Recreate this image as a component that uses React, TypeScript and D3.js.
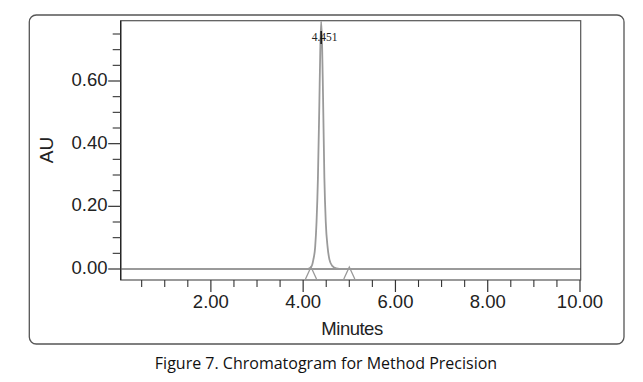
import React from "react";
import * as d3 from "d3";

const traceTime = [0.05, 4.1, 4.18, 4.22, 4.26, 4.29, 4.32, 4.35, 4.37, 4.39, 4.41, 4.43, 4.46, 4.49, 4.53, 4.57, 4.63, 4.72, 4.85, 10.0];
const traceAU = [0.0, 0.0, 0.008, 0.029, 0.07, 0.15, 0.29, 0.52, 0.69, 0.79, 0.72, 0.56, 0.29, 0.15, 0.07, 0.03, 0.01, 0.002, 0.0, 0.0];
const xMajorTicks = [2, 4, 6, 8, 10];
const xMinorTicks = [0.5, 1, 1.5, 2.5, 3, 3.5, 4.5, 5, 5.5, 6.5, 7, 7.5, 8.5, 9, 9.5];
const yMajorTicks = [0, 0.2, 0.4, 0.6];
const yMinorTicks = [0.05, 0.1, 0.15, 0.25, 0.3, 0.35, 0.45, 0.5, 0.55, 0.65, 0.7, 0.75];
const peakMarkers = [4.17, 5.0];
const peakLabel = "4.451";
const peakApex = 4.39;
const xTitle = "Minutes";
const yTitle = "AU";
const caption = "Figure 7. Chromatogram for Method Precision";

const W = 643, H = 382;
const L = 120.7, R = 580.7, T = 20.7, B = 280;

export default function App() {
  const x = d3.scaleLinear().domain([0.05, 10]).range([L + 0.2, 580]);
  const y = d3.scaleLinear().domain([0, 0.6]).range([269, 81]);
  const pts: [number, number][] = traceTime.map((t, i) => [t, traceAU[i]]);
  const line = d3.line<[number, number]>().x(d => x(d[0])).y(d => y(d[1])).curve(d3.curveMonotoneX);
  const font = "'Liberation Sans', Arial, sans-serif";
  return (
    <svg width={W} height={H} style={{ position: "absolute", left: 0, top: 0, background: "#fff" }}>
      <rect x={29.3} y={15} width={624 - 29.3} height={344 - 15} rx={7} fill="#fff" stroke="#555" strokeWidth={1.3} />
      <defs>
        <clipPath id="pc"><rect x={L} y={T} width={R - L} height={B - T} /></clipPath>
      </defs>
      <rect x={L} y={T} width={R - L} height={B - T} fill="none" stroke="#555" strokeWidth={1.2} />
      <line x1={L} x2={R} y1={y(0)} y2={y(0)} stroke="#333" strokeWidth={1.1} />
      <g clipPath="url(#pc)">
        <path d={line(pts) || ""} fill="none" stroke="#9a9a9a" strokeWidth={1.8} />
      </g>
      {peakMarkers.map((t, i) => (
        <path key={i} d={`M${x(t) - 5.5},${B - 1} L${x(t)},${y(0) - 2} L${x(t) + 5.5},${B - 1}`} fill="none" stroke="#999" strokeWidth={1.3} />
      ))}
      <text x={x(peakApex) - 9.5} y={38} dominantBaseline="middle" fontFamily="'Liberation Serif', 'Times New Roman', serif" fontSize={11.5} fill="#222">{peakLabel}</text>
      <line x1={x(peakApex)} x2={x(peakApex)} y1={31} y2={44} stroke="#111" strokeWidth={1.5} />
      <line x1={L} x2={L} y1={T} y2={B} stroke="#222" strokeWidth={1.3} />
      {xMajorTicks.map(t => (
        <g key={t}>
          <line x1={x(t)} x2={x(t)} y1={B} y2={B + 12} stroke="#333" strokeWidth={1.2} />
          <text x={x(t)} y={303} textAnchor="middle" dominantBaseline="middle" fontFamily={font} fontSize={18.5} fill="#222">{t.toFixed(2)}</text>
        </g>
      ))}
      {xMinorTicks.map(t => (
        <line key={t} x1={x(t)} x2={x(t)} y1={B} y2={B + 7} stroke="#333" strokeWidth={1.1} />
      ))}
      {yMajorTicks.map(v => (
        <g key={v}>
          <line x1={L} x2={L - 12.5} y1={y(v)} y2={y(v)} stroke="#333" strokeWidth={1.2} />
          <text x={107.5} y={y(v)} textAnchor="end" dominantBaseline="middle" fontFamily={font} fontSize={18.5} fill="#222">{v.toFixed(2)}</text>
        </g>
      ))}
      {yMinorTicks.map(v => (
        <line key={v} x1={L} x2={L - 8} y1={y(v)} y2={y(v)} stroke="#333" strokeWidth={1.1} />
      ))}
      <text x={352} y={330} textAnchor="middle" dominantBaseline="middle" fontFamily={font} fontSize={18.5} fill="#222" letterSpacing={-0.5}>{xTitle}</text>
      <text transform="translate(48.3,150) rotate(-90)" textAnchor="middle" dominantBaseline="middle" fontFamily={font} fontSize={19} fill="#222">{yTitle}</text>
      <text x={326} y={365} textAnchor="middle" dominantBaseline="middle" fontFamily="'Open Sans', sans-serif" fontSize={16} fill="#111">{caption}</text>
    </svg>
  );
}
